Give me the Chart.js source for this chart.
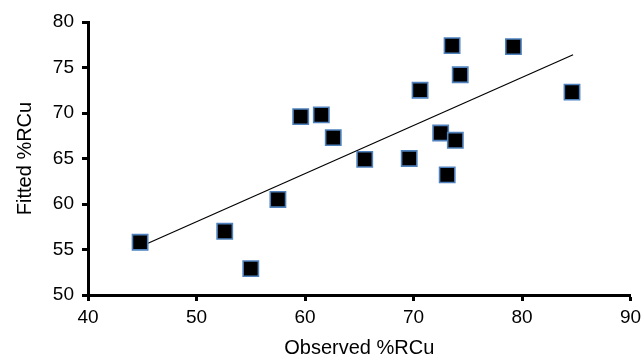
<!DOCTYPE html>
<html>
<head>
<meta charset="utf-8">
<script src="https://cdn.jsdelivr.net/npm/chart.js@4/dist/chart.umd.min.js"></script>
<style>
  body { margin: 0; background: #fff; }
  #wrap { width: 643px; height: 361px; }
</style>
</head>
<body>
<div id="wrap"><canvas id="chart" width="643" height="361"></canvas></div>
<script>
// observed vs fitted %RCu
let observed = [44.8, 52.6, 55.0, 57.5, 59.6, 61.5, 62.6, 65.5, 69.6, 70.6, 72.5, 73.85, 73.1, 73.55, 74.3, 79.2, 84.6];
let fitted   = [55.8, 57.0, 52.9, 60.5, 69.6, 69.8, 67.3, 64.9, 65.0, 72.5, 67.8, 67.0, 63.2, 77.4, 74.2, 77.3, 72.3];

// ends of the fit line
let lineX = [44.8, 84.7];
let lineY = [55.3, 76.4];

let xTicks = [40, 50, 60, 70, 80, 90];
let yTicks = [50, 55, 60, 65, 70, 75, 80];

let toPoints = function (xs, ys) {
    let pts = [];
    for (let i = 0; i < xs.length; i++) {
        pts.push({x: xs[i], y: ys[i]});
    }
    return pts;
}

const font = "'Liberation Sans', Arial, sans-serif";

const ctx = document.getElementById("chart");

new Chart(ctx, {
    type: 'scatter',
    data: {
        datasets: [
        {
            label: 'Fit',
            type: 'line',
            data: toPoints(lineX, lineY),
            borderColor: '#000',
            borderWidth: 1.2,
            pointRadius: 0,
            fill: false,
            order: 2
        },
        {
            label: 'Fitted %RCu',
            data: toPoints(observed, fitted),
            pointStyle: 'rect',
            pointRadius: 10.8,
            backgroundColor: '#000',
            borderColor: '#4f81bd',
            borderWidth: 1.6,
            order: 1
        }
    ]
    },
    options: {
        responsive: false,
        animation: false,
        devicePixelRatio: 1,
        layout: { padding: { left: 0, top: 22, right: 12, bottom: 0 } },
        plugins: { legend: { display: false }, tooltip: { enabled: false } },
        scales: {
            x: {
                type: 'linear',
                min: 40,
                max: 90,
                afterBuildTicks: function (s) { s.ticks = xTicks.map(v => ({value: v})); },
                afterFit: function (s) { s.height = 66; s.paddingRight = 0; },
                border: { display: true, color: '#000', width: 3 },
                grid: { display: true, drawOnChartArea: false, drawTicks: true, tickLength: 6, tickWidth: 3, tickColor: '#000' },
                ticks: { color: '#000', padding: 5, font: { family: font, size: 19 } },
                title: { display: true, text: 'Observed %RCu', color: '#000', padding: { top: 0, bottom: 1 }, font: { family: font, size: 20 } }
            },
            y: {
                type: 'linear',
                min: 50,
                max: 80,
                afterBuildTicks: function (s) { s.ticks = yTicks.map(v => ({value: v})); },
                afterFit: function (s) { s.width = 88; },
                border: { display: true, color: '#000', width: 3 },
                grid: { display: true, drawOnChartArea: false, drawTicks: true, tickLength: 6, tickWidth: 3, tickColor: '#000' },
                ticks: { color: '#000', padding: 8, font: { family: font, size: 19 } },
                title: { display: true, text: 'Fitted %RCu', color: '#000', padding: { top: 13, bottom: 0 }, font: { family: font, size: 20 } }
            }
        }
    }
});
</script>
</body>
</html>
